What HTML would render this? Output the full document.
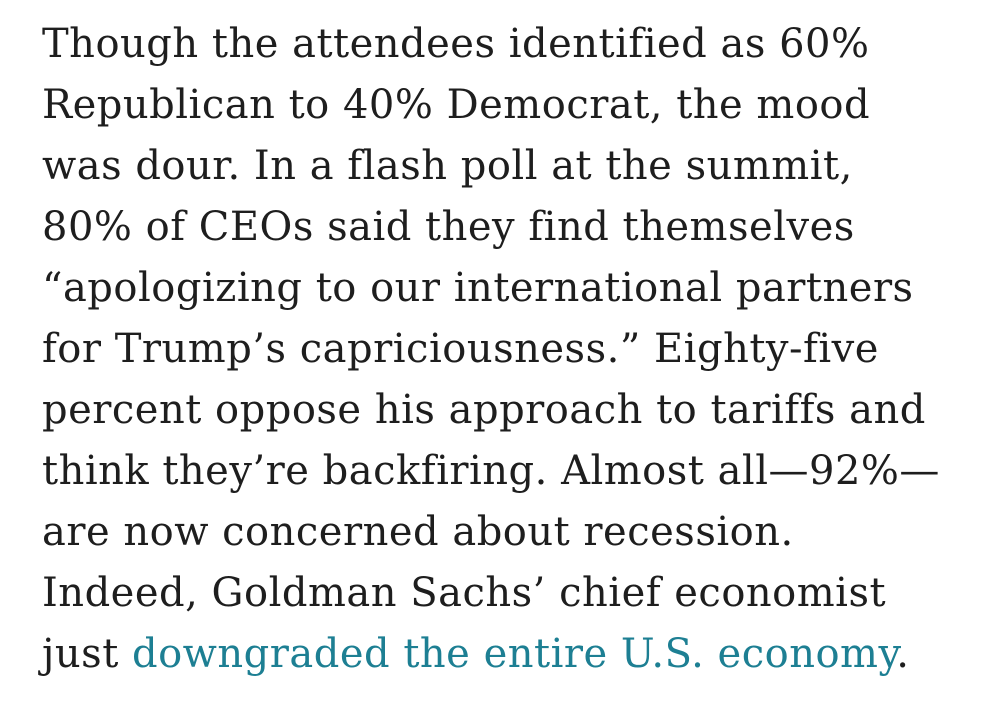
<!DOCTYPE html>
<html><head><meta charset="utf-8"><style>
html,body{margin:0;padding:0;background:#fff;width:1000px;height:713px;overflow:hidden}
.t{position:absolute;left:42px;font-family:"DejaVu Serif","Liberation Serif",serif;font-size:40px;letter-spacing:0.5px;color:#1e1e1e;white-space:nowrap;line-height:61px}
a{color:#1d7f93;text-decoration:none}
</style></head><body>
<div class="t" style="top:14px">Though the attendees identified as 60%</div>
<div class="t" style="top:75px">Republican to 40% Democrat, the mood</div>
<div class="t" style="top:136px">was dour. In a flash poll at the summit,</div>
<div class="t" style="top:197px">80% of CEOs said they find themselves</div>
<div class="t" style="top:258px">“apologizing to our international partners</div>
<div class="t" style="top:319px">for Trump’s capriciousness.” Eighty-five</div>
<div class="t" style="top:380px">percent oppose his approach to tariffs and</div>
<div class="t" style="top:441px">think they’re backfiring. Almost all—92%—</div>
<div class="t" style="top:502px">are now concerned about recession.</div>
<div class="t" style="top:563px">Indeed, Goldman Sachs’ chief economist</div>
<div class="t" style="top:624px">just <a>downgraded the entire U.S. economy</a>.</div>
</body></html>
